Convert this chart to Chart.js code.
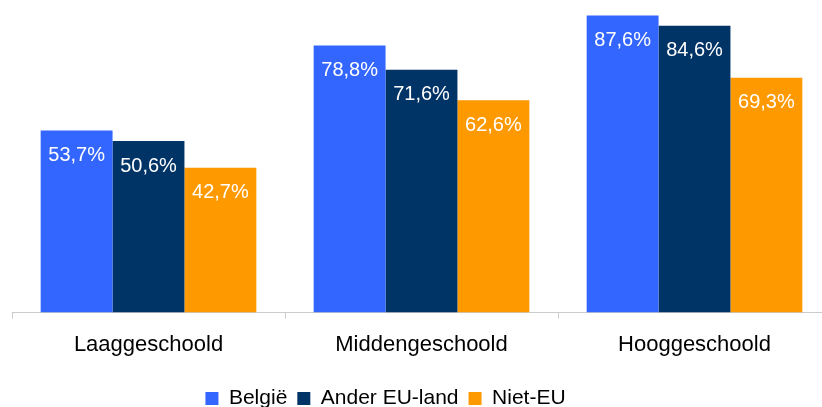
<!DOCTYPE html>
<html>
<head>
<meta charset="utf-8">
<script src="https://cdn.jsdelivr.net/npm/chart.js@4"></script>
<style>
    html, body { margin: 0; padding: 0; background: #fff; overflow: hidden; }
    #wrap { position: relative; width: 831px; height: 407px; }
</style>
</head>
<body>
<div id="wrap"><canvas id="scholingChart"></canvas></div>
<script>
// Gegevens
var categorieen = ["Laaggeschoold", "Middengeschoold", "Hooggeschoold"];
var belgie = [53.7, 78.8, 87.6];
var anderEU = [50.6, 71.6, 84.6];
var nietEU = [42.7, 62.6, 69.3];
var reeksNamen = ["België", "Ander EU-land", "Niet-EU"];

var fontFamily = "'Liberation Sans', Arial, sans-serif";

// Waarden bovenaan in de balken tekenen
var waardeLabels = {
    id: "waardeLabels",
    afterDatasetsDraw: function (chart) {
        var ctx = chart.ctx;
        ctx.save();
        ctx.fillStyle = "#ffffff";
        ctx.font = "20px " + fontFamily;
        ctx.textAlign = "center";
        ctx.textBaseline = "alphabetic";
        chart.data.datasets.forEach(function (ds, i) {
            chart.getDatasetMeta(i).data.forEach(function (bar, j) {
                var tekst = ds.data[j].toFixed(1).replace(".", ",") + "%";
                ctx.fillText(tekst, bar.x, bar.y + 30.5);
            });
        });
        ctx.restore();
    },
};

// Legenda iets naar links en naar onder schuiven
var legendaVerschuiving = {
    id: "legendaVerschuiving",
    afterLayout: function (chart) {
        var lg = chart.legend;
        lg.left -= 36;
        lg.right -= 36;
        lg.top += 6;
        lg.bottom += 6;
    },
};

var ctx = document.getElementById("scholingChart").getContext("2d");
new Chart(ctx, {
    type: "bar",
    data: {
        labels: categorieen,
        datasets: [
            { label: reeksNamen[0], data: belgie, backgroundColor: "#3366FF" },
            { label: reeksNamen[1], data: anderEU, backgroundColor: "#003366" },
            { label: reeksNamen[2], data: nietEU, backgroundColor: "#FF9900" },
        ],
    },
    options: {
        responsive: true,
        maintainAspectRatio: false,
        animation: false,
        datasets: {
            bar: { categoryPercentage: 0.79, barPercentage: 1.0 },
        },
        layout: { padding: { left: 12, right: 0, top: 0, bottom: -6 } },
        plugins: {
            legend: {
                position: "bottom",
                labels: {
                    boxWidth: 13,
                    boxHeight: 13,
                    padding: 10,
                    color: "#000",
                    font: { family: fontFamily, size: 21 },
                },
            },
            tooltip: { enabled: false },
        },
        scales: {
            x: {
                grid: {
                    display: true,
                    drawOnChartArea: false,
                    drawTicks: true,
                    tickLength: 6,
                    color: "#cccccc",
                    offset: true,
                },
                border: { color: "#cccccc", width: 1 },
                ticks: {
                    color: "#000",
                    padding: 13.5,
                    font: { family: fontFamily, size: 22 },
                },
            },
            y: {
                display: false,
                min: 0,
                max: 92.2,
            },
        },
    },
    plugins: [waardeLabels, legendaVerschuiving],
});
</script>
</body>
</html>
